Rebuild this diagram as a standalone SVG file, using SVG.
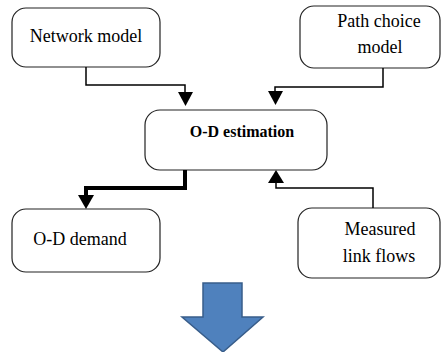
<svg xmlns="http://www.w3.org/2000/svg" width="441" height="352" viewBox="0 0 441 352">
<defs>
<style>
.box{fill:#fff;stroke:#222;stroke-width:1.2}
.c{fill:none;stroke:#000;stroke-width:1.5}
.ct{fill:none;stroke:#000;stroke-width:4}
.ah{fill:#000}
text{font-family:'Times New Roman','Liberation Serif',Times,serif;font-size:18px;text-anchor:middle;fill:#000}
</style>
</defs>
<rect width="441" height="352" fill="#fff"/>
<g id="network-model"><rect class="box" x="12" y="8" width="148" height="59" rx="14"/><text x="86" y="42">Network model</text></g>
<g id="path-choice-model"><rect class="box" x="300" y="6" width="140" height="62" rx="14"/><text x="379" y="27">Path choice</text><text x="380" y="53">model</text></g>
<g id="od-estimation"><rect class="box" x="145" y="110" width="182" height="60" rx="15"/><text x="242" y="137" style="font-weight:bold;font-size:16px">O-D estimation</text></g>
<g id="od-demand"><rect class="box" x="12" y="209" width="148" height="63" rx="14"/><text x="80" y="245">O-D demand</text></g>
<g id="measured-link-flows"><rect class="box" x="298" y="208" width="142" height="70" rx="14"/><text x="380" y="235">Measured</text><text x="379" y="262">link flows</text></g>
<g id="connectors">
<path class="c" d="M86 67V85H185V93"/><polygon class="ah" points="178,92 193,92 185.5,106"/>
<path class="c" d="M383 68V87H275V92"/><polygon class="ah" points="268,91 283,91 275.5,105"/>
<path class="ct" d="M185 170V188H86V196"/><polygon class="ah" points="78,195 94,195 86,209"/>
<path class="c" d="M373 208V188H276V182"/><polygon class="ah" points="268,183 284,183 276,170"/>
</g>
<polygon points="203,283 242,283 242,317 263,317 223,352 182,317 203,317" fill="#4F81BD" stroke="#385D8A" stroke-width="1.5"/>
</svg>
